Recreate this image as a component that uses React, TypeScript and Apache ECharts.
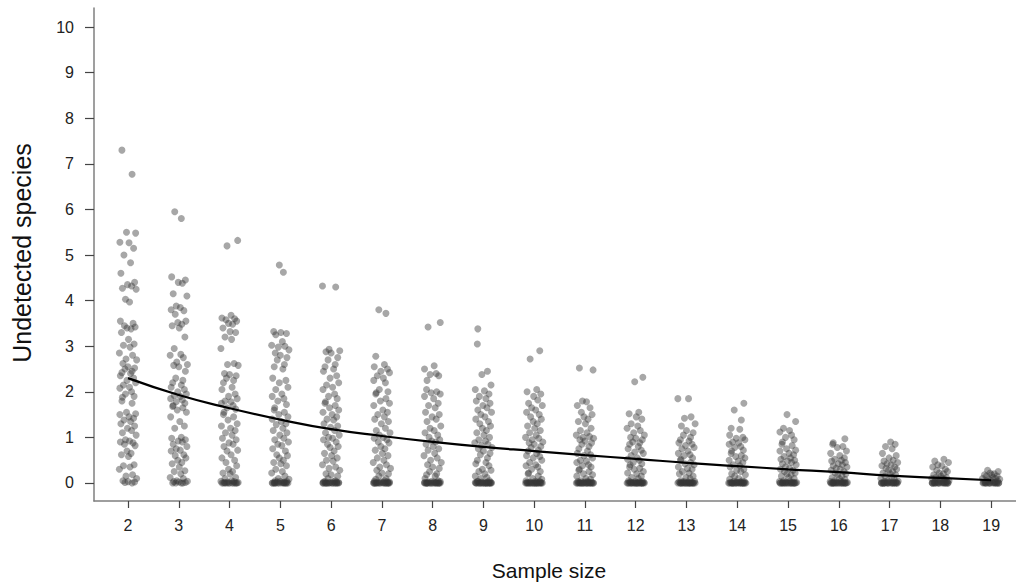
import React, { useEffect, useRef } from "react";
import * as echarts from "echarts";

const sampleSizes = [2, 3, 4, 5, 6, 7, 8, 9, 10, 11, 12, 13, 14, 15, 16, 17, 18, 19];
const yTicks = [0, 1, 2, 3, 4, 5, 6, 7, 8, 9, 10];

const fittedCurve = [2.3, 1.93, 1.64, 1.39, 1.18, 1.03, 0.9, 0.79, 0.7, 0.61, 0.53, 0.44, 0.37, 0.3, 0.24, 0.16, 0.11, 0.06];

const g2 = [7.3, 6.77, 5.5, 5.48, 5.28, 5.27, 5.15, 5.0, 4.83, 4.6, 4.4, 4.35, 4.32, 4.27, 4.25, 4.03, 3.97, 3.55, 3.5, 3.45, 3.42, 3.4, 3.38, 3.3, 3.15, 3.05, 3.02, 2.98, 2.85, 2.8, 2.72, 2.7, 2.62, 2.55, 2.52, 2.5, 2.45, 2.42, 2.4, 2.35, 2.3, 2.25, 2.2, 2.15, 2.1, 2.08, 2.0, 1.95, 1.9, 1.88, 1.8, 1.75, 1.55, 1.52, 1.5, 1.45, 1.42, 1.38, 1.35, 1.3, 1.25, 1.2, 1.15, 1.1, 1.05, 0.95, 0.92, 0.9, 0.88, 0.85, 0.82, 0.7, 0.65, 0.62, 0.58, 0.4, 0.38, 0.35, 0.3, 0.18, 0.15, 0.1, 0.05, 0.03, 0.02, 0.01, 0];
const g3 = [5.95, 5.8, 4.52, 4.45, 4.4, 4.38, 4.15, 4.1, 3.88, 3.85, 3.8, 3.78, 3.7, 3.55, 3.52, 3.48, 3.45, 3.4, 3.2, 2.95, 2.82, 2.8, 2.75, 2.65, 2.6, 2.58, 2.55, 2.45, 2.3, 2.25, 2.2, 2.15, 2.1, 2.05, 2.0, 1.95, 1.92, 1.9, 1.85, 1.82, 1.78, 1.75, 1.7, 1.68, 1.65, 1.6, 1.55, 1.45, 1.35, 1.25, 1.2, 1.0, 0.98, 0.95, 0.92, 0.9, 0.85, 0.8, 0.75, 0.72, 0.7, 0.62, 0.6, 0.55, 0.5, 0.45, 0.42, 0.35, 0.27, 0.25, 0.2, 0.12, 0.1, 0.05, 0.04, 0.03, 0.02, 0.01, 0, 0, 0, 0];
const g4 = [5.32, 5.2, 3.68, 3.62, 3.6, 3.58, 3.55, 3.5, 3.48, 3.4, 3.32, 3.3, 3.2, 3.15, 2.95, 2.62, 2.6, 2.58, 2.4, 2.38, 2.35, 2.3, 2.25, 2.2, 2.1, 2.05, 1.95, 1.9, 1.85, 1.8, 1.78, 1.75, 1.7, 1.65, 1.62, 1.55, 1.5, 1.45, 1.38, 1.3, 1.25, 1.2, 1.15, 1.1, 1.05, 0.98, 0.95, 0.88, 0.85, 0.8, 0.72, 0.7, 0.62, 0.55, 0.5, 0.45, 0.38, 0.3, 0.25, 0.22, 0.2, 0.12, 0.1, 0.05, 0.04, 0.03, 0.02, 0.01, 0.01, 0, 0, 0, 0, 0, 0, 0, 0, 0, 0, 0];
const g5 = [4.78, 4.62, 3.32, 3.3, 3.28, 3.25, 3.1, 3.02, 3.0, 2.98, 2.92, 2.85, 2.8, 2.75, 2.7, 2.6, 2.55, 2.5, 2.3, 2.25, 2.2, 2.1, 2.05, 1.95, 1.9, 1.85, 1.8, 1.72, 1.65, 1.6, 1.55, 1.5, 1.45, 1.4, 1.35, 1.3, 1.28, 1.2, 1.15, 1.1, 1.05, 0.98, 0.95, 0.9, 0.85, 0.82, 0.75, 0.7, 0.62, 0.6, 0.55, 0.5, 0.45, 0.42, 0.38, 0.3, 0.25, 0.22, 0.15, 0.1, 0.08, 0.05, 0.04, 0.03, 0.02, 0.02, 0.01, 0.01, 0, 0, 0, 0, 0, 0, 0, 0, 0, 0, 0, 0, 0];
const g6 = [4.32, 4.3, 2.93, 2.9, 2.88, 2.85, 2.75, 2.7, 2.6, 2.55, 2.5, 2.45, 2.35, 2.3, 2.2, 2.15, 2.1, 2.05, 1.95, 1.9, 1.85, 1.78, 1.75, 1.7, 1.65, 1.6, 1.55, 1.5, 1.45, 1.4, 1.38, 1.3, 1.25, 1.22, 1.15, 1.1, 1.05, 1.0, 0.98, 0.95, 0.9, 0.85, 0.8, 0.78, 0.7, 0.65, 0.6, 0.55, 0.5, 0.48, 0.4, 0.35, 0.32, 0.28, 0.2, 0.18, 0.15, 0.1, 0.05, 0.04, 0.03, 0.02, 0.02, 0.01, 0.01, 0, 0, 0, 0, 0, 0, 0, 0, 0, 0, 0, 0, 0, 0, 0];
const g7 = [3.8, 3.72, 2.78, 2.6, 2.55, 2.5, 2.45, 2.42, 2.35, 2.3, 2.25, 2.2, 2.05, 2.0, 1.98, 1.95, 1.85, 1.8, 1.75, 1.7, 1.6, 1.55, 1.5, 1.45, 1.4, 1.35, 1.3, 1.2, 1.15, 1.1, 1.05, 1.0, 0.98, 0.95, 0.9, 0.88, 0.8, 0.75, 0.72, 0.65, 0.6, 0.55, 0.5, 0.45, 0.4, 0.35, 0.32, 0.28, 0.22, 0.2, 0.15, 0.1, 0.08, 0.05, 0.04, 0.03, 0.02, 0.02, 0.01, 0.01, 0, 0, 0, 0, 0, 0, 0, 0, 0, 0, 0, 0, 0, 0, 0, 0];
const g8 = [3.52, 3.42, 2.57, 2.5, 2.4, 2.38, 2.35, 2.25, 2.05, 2.0, 1.98, 1.95, 1.9, 1.85, 1.75, 1.7, 1.65, 1.55, 1.5, 1.45, 1.4, 1.35, 1.25, 1.2, 1.15, 1.1, 1.05, 1.0, 0.95, 0.92, 0.9, 0.85, 0.8, 0.75, 0.72, 0.65, 0.6, 0.55, 0.5, 0.45, 0.4, 0.35, 0.32, 0.25, 0.2, 0.18, 0.15, 0.1, 0.05, 0.04, 0.03, 0.02, 0.02, 0.01, 0.01, 0, 0, 0, 0, 0, 0, 0, 0, 0, 0, 0, 0, 0, 0, 0, 0, 0];
const g9 = [3.38, 3.05, 2.45, 2.38, 2.15, 2.05, 2.02, 1.95, 1.9, 1.85, 1.8, 1.75, 1.7, 1.65, 1.6, 1.55, 1.5, 1.45, 1.4, 1.35, 1.3, 1.25, 1.2, 1.15, 1.1, 1.05, 1.0, 0.95, 0.92, 0.88, 0.85, 0.82, 0.78, 0.75, 0.7, 0.65, 0.62, 0.55, 0.5, 0.45, 0.42, 0.38, 0.3, 0.28, 0.25, 0.2, 0.15, 0.12, 0.1, 0.05, 0.04, 0.03, 0.02, 0.02, 0.01, 0.01, 0, 0, 0, 0, 0, 0, 0, 0, 0, 0, 0, 0, 0, 0, 0, 0, 0, 0];
const g10 = [2.9, 2.72, 2.05, 2.0, 1.95, 1.9, 1.82, 1.75, 1.7, 1.65, 1.6, 1.55, 1.5, 1.45, 1.4, 1.35, 1.3, 1.25, 1.2, 1.15, 1.1, 1.05, 1.0, 0.98, 0.95, 0.9, 0.88, 0.85, 0.8, 0.78, 0.72, 0.7, 0.65, 0.6, 0.58, 0.55, 0.5, 0.45, 0.4, 0.38, 0.35, 0.3, 0.25, 0.22, 0.2, 0.15, 0.1, 0.08, 0.05, 0.04, 0.03, 0.02, 0.02, 0.01, 0.01, 0, 0, 0, 0, 0, 0, 0, 0, 0, 0, 0, 0, 0, 0, 0, 0, 0, 0];
const g11 = [2.52, 2.48, 1.8, 1.78, 1.7, 1.65, 1.55, 1.5, 1.45, 1.4, 1.35, 1.3, 1.2, 1.15, 1.1, 1.05, 1.02, 1.0, 0.98, 0.95, 0.92, 0.88, 0.85, 0.8, 0.75, 0.7, 0.65, 0.62, 0.6, 0.55, 0.5, 0.48, 0.45, 0.4, 0.38, 0.35, 0.3, 0.28, 0.25, 0.2, 0.18, 0.15, 0.1, 0.08, 0.05, 0.04, 0.03, 0.02, 0.02, 0.01, 0.01, 0, 0, 0, 0, 0, 0, 0, 0, 0, 0, 0, 0, 0, 0, 0, 0, 0, 0, 0];
const g12 = [2.32, 2.22, 1.55, 1.52, 1.45, 1.4, 1.3, 1.25, 1.2, 1.15, 1.1, 1.05, 1.0, 0.98, 0.95, 0.9, 0.88, 0.85, 0.8, 0.75, 0.72, 0.68, 0.65, 0.6, 0.55, 0.52, 0.5, 0.45, 0.42, 0.4, 0.35, 0.32, 0.3, 0.25, 0.22, 0.2, 0.15, 0.12, 0.1, 0.05, 0.04, 0.03, 0.02, 0.02, 0.01, 0.01, 0, 0, 0, 0, 0, 0, 0, 0, 0, 0, 0, 0, 0, 0, 0, 0, 0, 0, 0];
const g13 = [1.85, 1.85, 1.45, 1.42, 1.3, 1.25, 1.15, 1.1, 1.05, 1.0, 0.95, 0.92, 0.88, 0.85, 0.82, 0.78, 0.75, 0.7, 0.65, 0.62, 0.6, 0.55, 0.52, 0.5, 0.45, 0.42, 0.4, 0.35, 0.32, 0.3, 0.25, 0.22, 0.2, 0.15, 0.12, 0.1, 0.05, 0.04, 0.03, 0.02, 0.02, 0.01, 0.01, 0, 0, 0, 0, 0, 0, 0, 0, 0, 0, 0, 0, 0, 0, 0, 0, 0, 0, 0];
const g14 = [1.75, 1.6, 1.38, 1.2, 1.18, 1.05, 1.0, 0.98, 0.95, 0.9, 0.88, 0.85, 0.8, 0.78, 0.72, 0.7, 0.65, 0.6, 0.58, 0.55, 0.5, 0.48, 0.45, 0.4, 0.38, 0.35, 0.3, 0.28, 0.25, 0.2, 0.18, 0.15, 0.1, 0.08, 0.05, 0.04, 0.03, 0.02, 0.02, 0.01, 0.01, 0, 0, 0, 0, 0, 0, 0, 0, 0, 0, 0, 0, 0, 0, 0, 0, 0, 0, 0];
const g15 = [1.5, 1.35, 1.2, 1.15, 1.12, 1.05, 1.0, 0.95, 0.9, 0.85, 0.82, 0.75, 0.72, 0.7, 0.65, 0.62, 0.58, 0.55, 0.52, 0.5, 0.48, 0.45, 0.42, 0.4, 0.35, 0.32, 0.3, 0.28, 0.25, 0.22, 0.2, 0.18, 0.15, 0.12, 0.1, 0.05, 0.04, 0.03, 0.02, 0.02, 0.01, 0.01, 0, 0, 0, 0, 0, 0, 0, 0, 0, 0, 0, 0, 0, 0, 0, 0, 0];
const g16 = [0.97, 0.88, 0.85, 0.8, 0.78, 0.7, 0.65, 0.6, 0.55, 0.52, 0.5, 0.48, 0.45, 0.42, 0.4, 0.38, 0.35, 0.32, 0.3, 0.28, 0.25, 0.22, 0.2, 0.18, 0.15, 0.12, 0.1, 0.08, 0.05, 0.04, 0.03, 0.02, 0.02, 0.01, 0.01, 0, 0, 0, 0, 0, 0, 0, 0, 0, 0, 0, 0, 0, 0, 0, 0, 0, 0];
const g17 = [0.9, 0.85, 0.8, 0.75, 0.65, 0.6, 0.55, 0.5, 0.48, 0.45, 0.42, 0.4, 0.38, 0.35, 0.32, 0.3, 0.28, 0.25, 0.22, 0.2, 0.18, 0.15, 0.12, 0.1, 0.08, 0.05, 0.04, 0.03, 0.02, 0.02, 0.01, 0.01, 0, 0, 0, 0, 0, 0, 0, 0, 0, 0, 0, 0, 0, 0, 0, 0, 0, 0];
const g18 = [0.52, 0.48, 0.45, 0.4, 0.38, 0.35, 0.3, 0.28, 0.25, 0.22, 0.2, 0.18, 0.15, 0.12, 0.12, 0.1, 0.1, 0.08, 0.08, 0.05, 0.05, 0.04, 0.03, 0.02, 0.02, 0.01, 0.01, 0, 0, 0, 0, 0, 0, 0, 0, 0, 0, 0, 0, 0, 0, 0, 0];
const g19 = [0.28, 0.25, 0.22, 0.2, 0.18, 0.18, 0.15, 0.15, 0.12, 0.1, 0.1, 0.08, 0.08, 0.05, 0.05, 0.04, 0.03, 0.02, 0.02, 0.01, 0.01, 0, 0, 0, 0, 0, 0, 0, 0, 0, 0, 0, 0, 0, 0];

const groups = [g2, g3, g4, g5, g6, g7, g8, g9, g10, g11, g12, g13, g14, g15, g16, g17, g18, g19];

// horizontal jitter offsets (typed, reused across groups)
const jitter = [-0.12, 0.08, -0.03, 0.15, -0.16, 0.02, 0.11, -0.08, 0.05, -0.14, 0.13, -0.01, 0.07, -0.11, 0.16, -0.05, 0.03, -0.15, 0.1, -0.07, 0.14, -0.02, 0.06, -0.13, 0.01, 0.12, -0.09, 0.04, -0.17, 0.09, -0.04, 0.17, -0.1, 0.0, 0.13, -0.06, 0.08, -0.12, 0.05, -0.15, 0.11, -0.02, 0.15, -0.09, 0.03, -0.16, 0.07, -0.05, 0.12, -0.11];

export default function App() {
  const ref = useRef<HTMLDivElement>(null);

  useEffect(() => {
    document.body.style.margin = "0";
    const chart = echarts.init(ref.current!, null, { renderer: "svg" });

    const points: number[][] = [];
    groups.forEach((vals, gi) => {
      vals.forEach((v, i) => {
        points.push([sampleSizes[gi] + jitter[(i + gi * 7) % jitter.length], v]);
      });
    });
    const curve = sampleSizes.map((s, i) => [s, fittedCurve[i]]);

    const font = "Liberation Sans, Arial, sans-serif";

    chart.setOption({
      animation: false,
      backgroundColor: "#ffffff",
      grid: { left: 94, right: 0, top: 8, bottom: 83, containLabel: false },
      xAxis: {
        type: "value",
        min: 1.33,
        max: 19.49,
        axisLine: { show: true, onZero: false, lineStyle: { color: "#7f7f7f", width: 1.5 } },
        axisTick: { show: true, length: 7, lineStyle: { color: "#444", width: 1.2 }, customValues: sampleSizes },
        axisLabel: { show: true, margin: 16, fontSize: 16, color: "#222", fontFamily: font, customValues: sampleSizes },
        splitLine: { show: false },
      },
      yAxis: {
        type: "value",
        min: -0.395,
        max: 10.417,
        axisLine: { show: true, onZero: false, lineStyle: { color: "#7f7f7f", width: 1.5 } },
        axisTick: { show: true, length: 9, lineStyle: { color: "#444", width: 1.2 }, customValues: yTicks },
        axisLabel: { show: true, margin: 20, fontSize: 16, color: "#222", fontFamily: font, customValues: yTicks },
        splitLine: { show: false },
      },
      graphic: [
        {
          type: "text",
          x: 22,
          y: 253,
          rotation: Math.PI / 2,
          style: {
            text: "Undetected species",
            font: `25px ${font}`,
            fill: "#111",
            textAlign: "center",
            textVerticalAlign: "middle",
          },
        },
        {
          type: "text",
          x: 549,
          y: 570,
          style: {
            text: "Sample size",
            font: `21px ${font}`,
            fill: "#111",
            textAlign: "center",
            textVerticalAlign: "middle",
          },
        },
      ],
      series: [
        {
          type: "scatter",
          data: points,
          symbolSize: 7,
          itemStyle: { color: "rgba(55,55,55,0.55)" },
          silent: true,
          z: 2,
        },
        {
          type: "line",
          data: curve,
          smooth: true,
          showSymbol: false,
          lineStyle: { color: "#000", width: 2.2 },
          silent: true,
          z: 3,
        },
      ],
    });

    return () => chart.dispose();
  }, []);

  return <div ref={ref} style={{ width: 1016, height: 584 }} />;
}
